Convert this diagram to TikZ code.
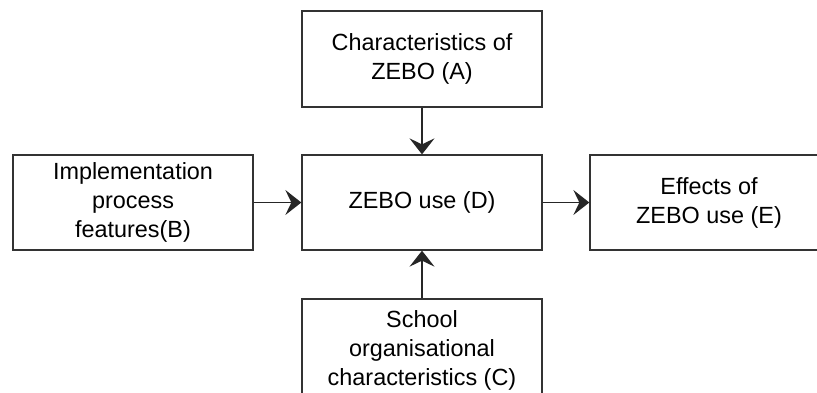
\documentclass[tikz,border=0pt]{standalone}
\usepackage{fontspec}
\setmainfont{Liberation Sans}
\usetikzlibrary{arrows.meta}
\begin{document}
\begin{tikzpicture}[x=1pt,y=-1pt,
  blk/.style={draw=black!80, line width=1.3pt, rectangle, minimum width=240pt, align=center, inner sep=0pt,
    font=\fontsize{23.4}{29}\selectfont},
  conn/.style={draw=black!85, line width=1.4pt, -{Stealth[length=16pt,width=25pt,inset=6pt]}}]
\useasboundingbox (0,0) rectangle (817,392);
\clip (0,0) rectangle (817,392);
\node[blk, minimum height=96pt] (A) at (422,59) {Characteristics of\\ZEBO (A)};
\node[blk, minimum height=95pt] (D) at (422,202.5) {ZEBO use (D)};
\node[blk, minimum height=95pt] (B) at (133,202.5) {Implementation\\process\\features(B)};
\node[blk, minimum height=95pt, minimum width=238pt] (E) at (709,202.5) {Effects of\\ZEBO use (E)};
\node[blk, minimum height=102pt] (C) at (422,350) {School\\organisational\\characteristics (C)};
\draw[conn] (A) -- (D);
\draw[conn] (B) -- (D);
\draw[conn] (D) -- (E);
\draw[conn] (C) -- (D);
\end{tikzpicture}
\end{document}
